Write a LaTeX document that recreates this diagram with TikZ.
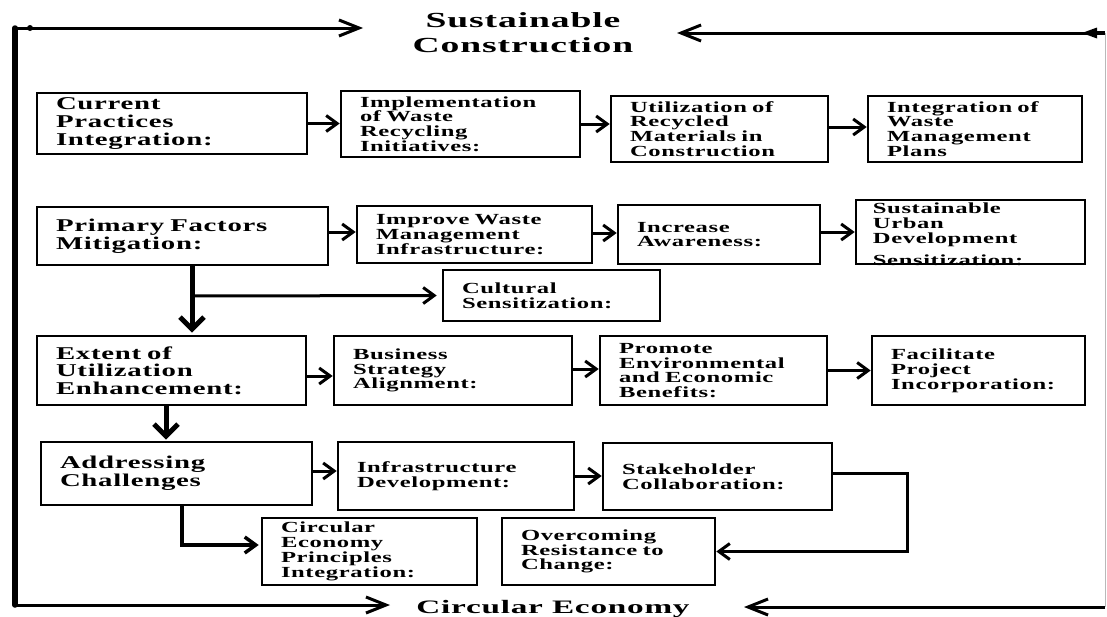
\documentclass[tikz,border=0pt]{standalone}
\usepackage{fontspec}
\setmainfont{Liberation Serif}[FakeStretch=1.6,LetterSpace=4]
\newfontfamily\ttlfont{Liberation Serif}[FakeStretch=1.75,LetterSpace=4]
\usetikzlibrary{arrows.meta}
\begin{document}
\begin{tikzpicture}[x=1pt,y=-1pt,
  bx/.style={draw, line width=2.6pt, inner xsep=19pt, inner ysep=0pt, align=left,
    font=\bfseries\fontsize{15.4}{14.8}\selectfont},
  bxl/.style={bx, font=\bfseries\fontsize{18}{17.6}\selectfont},
  arr/.style={line width=3pt, -{Straight Barb[length=11pt,width=16pt]}},
  varr/.style={line width=5pt, -{Straight Barb[length=12pt,width=24pt]}},
  tarr/.style={line width=3pt, -{Straight Barb[length=20pt,width=16pt]}},
  ttl/.style={font=\ttlfont\bfseries\fontsize{21.5}{25}\selectfont, align=center, inner sep=0pt},
  ttlb/.style={font=\ttlfont\bfseries\fontsize{19}{22}\selectfont, inner sep=0pt}
]
\useasboundingbox (0,0) rectangle (1107,616);
\fill[white] (0,0) rectangle (1107,616);

% titles
\node[ttl] (sc) at (523,32.4) {Sustainable\\Construction};
\node[ttlb, anchor=base] (ce) at (553,613) {Circular Economy};

% frame coordinates
\coordinate (tl) at (15,28);
\coordinate (bl) at (15,605);
\coordinate (tlend) at (363,28);
\coordinate (blend) at (390,605);
\coordinate (tr) at (1105,33);
\coordinate (trend) at (677,33);
\coordinate (br) at (1105,607);
\coordinate (brend) at (744,607);

\draw[gray!55, line width=0.8pt] (tr) -- (br);
\draw[line width=5.5pt, line cap=round] (tl) -- (bl);
\draw[tarr] (tl) -- (tlend);
\fill (30,28) circle (3);
\draw[tarr] (bl) -- (blend);
\draw[tarr] (tr) -- (trend);
\fill (1082,33) -- (1097,27.5) -- (1097,38.5) -- cycle;
\draw[line width=4.5pt] (1095,33) -- (tr);
\draw[tarr] (br) -- (brend);

% row 1
\node[bxl, text width=232pt, minimum height=61pt] (a1) at (172,123.5) {Current\\Practices\\Integration:};
\node[bx, text width=201pt, minimum height=66pt] (a2) at (460.5,124) {Implementation\\of Waste\\Recycling\\Initiatives:};
\node[bx, text width=179pt, minimum height=66pt] (a3) at (719.5,129) {Utilization of\\Recycled\\Materials in\\Construction};
\node[bx, text width=176pt, minimum height=66pt] (a4) at (975,129) {Integration of\\Waste\\Management\\Plans};

% row 2
\node[bxl, text width=253pt, minimum height=58pt] (b1) at (182.5,236) {Primary Factors\\Mitigation:};
\node[bx, text width=197pt, minimum height=57pt] (b2) at (474.5,234.5) {Improve Waste\\Management\\Infrastructure:};
\node[bx, text width=164pt, minimum height=59pt] (b3) at (719,234.5) {Increase\\Awareness:};
\node[bx, minimum width=229pt, minimum height=64pt, inner xsep=0pt] (b4) at (970.5,232) {};
\begin{scope}
  \clip (b4.south west) rectangle (b4.north east);
  \node[anchor=north west, inner xsep=18pt, inner ysep=4pt, align=left,
    font=\bfseries\fontsize{15.4}{15}\selectfont] (b4t) at (b4.north west)
    {Sustainable\\Urban\\Development\\[7pt]Sensitization:};
\end{scope}
\node[bx, text width=179pt, minimum height=51pt] (cul) at (551.5,295.5) {Cultural\\Sensitization:};

% row 3
\node[bxl, text width=231pt, minimum height=69pt] (c1) at (171.5,370.5) {Extent of\\Utilization\\Enhancement:};
\node[bx, text width=200pt, minimum height=69pt] (c2) at (453,370.5) {Business\\Strategy\\Alignment:};
\node[bx, text width=189pt, minimum height=69pt] (c3) at (713.5,370.5) {Promote\\Environmental\\and Economic\\Benefits:};
\node[bx, text width=175pt, minimum height=69pt] (c4) at (978.5,370.5) {Facilitate\\Project\\Incorporation:};

% row 4
\node[bxl, text width=233pt, minimum height=63pt] (d1) at (176.5,473.5) {Addressing\\Challenges};
\node[bx, text width=198pt, minimum height=68pt] (d2) at (456,476) {Infrastructure\\Development:};
\node[bx, text width=191pt, minimum height=67pt] (d3) at (717.5,476.5) {Stakeholder\\Collaboration:};

% row 5
\node[bx, text width=177pt, minimum height=67pt] (e1) at (369.5,551.5) {Circular\\Economy\\Principles\\Integration:};
\node[bx, text width=175pt, minimum height=67pt] (e2) at (608.5,551.5) {Overcoming\\Resistance to\\Change:};

% helper coordinates
\coordinate (x192) at (192,0);
\coordinate (x166) at (166,0);
\coordinate (x182) at (182,0);
\coordinate (x907) at (907,0);
\coordinate (bj) at (192,296);

% connectors
\draw[arr] (a1.east) -- (a1.east -| a2.west);
\draw[arr] (a2.east) -- (a2.east -| a3.west);
\draw[arr] ([yshift=2pt]a3.east) -- ([yshift=2pt]a3.east -| a4.west);
\draw[arr] ([yshift=4pt]b1.east) -- ([yshift=4pt]b1.east -| b2.west);
\draw[arr] ([yshift=1.5pt]b2.east) -- ([yshift=1.5pt]b2.east -| b3.west);
\draw[arr] ([yshift=2.5pt]b3.east) -- ([yshift=2.5pt]b3.east -| b4.west);
\draw[varr, shorten >=2pt] (b1.south -| x192) -- (c1.north -| x192);
\draw[arr, shorten >=5pt] (bj) -- (cul.west);
\draw[arr] ([yshift=-5.5pt]c1.east) -- ([yshift=-5.5pt]c1.east -| c2.west);
\draw[arr] ([yshift=1.5pt]c2.east) -- ([yshift=1.5pt]c2.east -| c3.west);
\draw[arr] (c3.east) -- (c3.east -| c4.west);
\draw[varr, shorten >=1pt] (c1.south -| x166) -- (d1.north -| x166);
\draw[arr] ([yshift=2.5pt]d1.east) -- ([yshift=2.5pt]d1.east -| d2.west);
\draw[arr] (d2.east) -- (d2.east -| d3.west);
\draw[arr, line width=3.5pt, shorten >=2pt] (d1.south -| x182) |- ([yshift=6.5pt]e1.west);
\draw[arr, shorten >=-7pt] ([yshift=3.5pt]d3.east) -| (x907 |- e2.east) -- ([xshift=7pt]e2.east);
\end{tikzpicture}
\end{document}
